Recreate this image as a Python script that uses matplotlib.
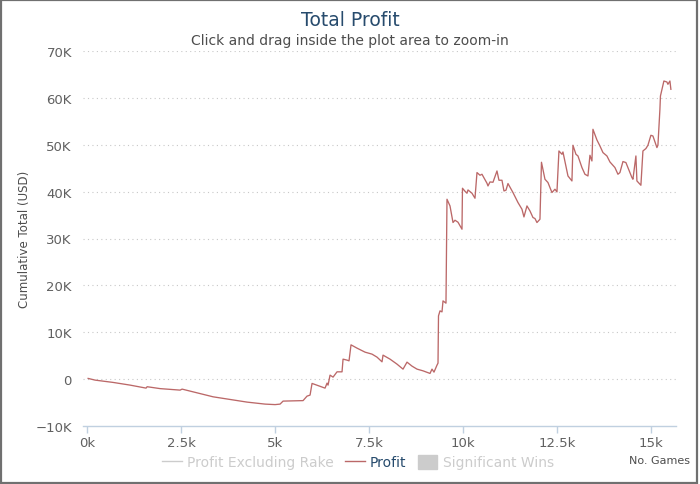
import matplotlib
matplotlib.use("Agg")
import matplotlib.pyplot as plt
from matplotlib.lines import Line2D
from matplotlib.patches import Patch, Rectangle
from matplotlib.ticker import FuncFormatter

# values
games = [27, 213, 692, 1144, 1569, 1596, 1942, 2474, 2527, 3352, 4256, 4735, 5001,
         5134, 5214, 5746, 5852, 5932, 5985, 6331, 6384, 6411, 6464, 6544, 6650, 6783,
         6810, 6916, 6969, 7022, 7182, 7395, 7581, 7714, 7847, 7874, 8060, 8246, 8406,
         8512, 8645, 8778, 8938, 9124, 9177, 9230, 9310, 9337, 9350, 9390, 9443, 9470,
         9549, 9576, 9656, 9736, 9789, 9869, 9975, 9988, 10055, 10108, 10135, 10241,
         10321, 10374, 10454, 10507, 10640, 10667, 10720, 10800, 10906, 10959, 11039,
         11092, 11145, 11199, 11332, 11465, 11571, 11624, 11704, 11784, 11864, 11917,
         11970, 12050, 12090, 12183, 12263, 12369, 12449, 12502, 12555, 12635, 12662,
         12795, 12901, 12928, 13007, 13061, 13167, 13247, 13327, 13380, 13433, 13460,
         13566, 13646, 13726, 13832, 13912, 14045, 14125, 14178, 14258, 14337, 14391,
         14497, 14524, 14603, 14630, 14736, 14790, 14869, 14923, 15002, 15056, 15162,
         15189, 15242, 15256, 15348, 15428, 15455, 15508, 15534]
profit = [150, -213, -704, -1279, -1919, -1620, -2025, -2345, -2132, -3774, -4904, -5330,
          -5437, -5330, -4690, -4584, -3624, -3411, -917, -1919, -853, -1279, 853, 426,
          1556, 1556, 4264, 4051, 3902, 7313, 6609, 5756, 5330, 4690, 3688, 5117, 4264,
          3198, 2132, 3624, 2772, 2132, 1770, 1215, 2132, 1492, 2985, 3411, 13496, 14562,
          14348, 16693, 16203, 38376, 36948, 33408, 33899, 33472, 31980, 40721, 40082,
          39655, 40359, 39655, 38589, 44069, 43493, 43706, 41787, 41212, 42064, 42000,
          44410, 42427, 42427, 40146, 40295, 41723, 39804, 37672, 36244, 34602, 36948,
          35882, 34475, 34261, 33408, 34112, 46264, 42640, 41936, 39804, 40508, 39932,
          48673, 47970, 48460, 43343, 42277, 49889, 47970, 47608, 45134, 43706, 43343,
          47757, 46541, 53300, 51019, 49740, 48333, 47608, 46328, 45134, 43706, 44069,
          46414, 46201, 45134, 43002, 42640, 47608, 42277, 41361, 48673, 49185, 49889,
          52021, 51870, 49398, 49889, 57564, 60400, 63598, 63385, 62894, 63598, 61828]

x_ticks = [0, 2500, 5000, 7500, 10000, 12500, 15000]
x_labels = ["0k", "2.5k", "5k", "7.5k", "10k", "12.5k", "15k"]
y_ticks = [-10000, 0, 10000, 20000, 30000, 40000, 50000, 60000, 70000]

fig = plt.figure(figsize=(7, 4.85), dpi=100)
ax = fig.add_axes([83 / 700, 1 - 427 / 485, (676 - 83) / 700, (427 - 52) / 485])

ax.plot(games, profit, color="#bb6868", lw=0.95)

ax.set_xlim(-110, 15670)
ax.set_ylim(-10000, 70000)
ax.set_xticks(x_ticks)
ax.set_xticklabels(x_labels)
ax.set_yticks(y_ticks)
ax.yaxis.set_major_formatter(FuncFormatter(
    lambda v, p: "0" if v == 0 else ("\u2212%dK" % abs(v / 1000) if v < 0 else "%dK" % (v / 1000))))

for v in y_ticks[1:]:
    ax.axhline(v, color="#c8c8c8", lw=0.8, ls=(0, (1, 3)), zorder=0)

for s in ["top", "right", "left"]:
    ax.spines[s].set_visible(False)
ax.spines["bottom"].set_color("#c0d0e0")
ax.spines["bottom"].set_linewidth(1)
ax.tick_params(axis="x", colors="#c0d0e0", length=5, width=1, labelcolor="#606060",
               labelsize=9.5, pad=2)
ax.tick_params(axis="y", length=0, labelcolor="#606060", labelsize=9.5, pad=8)

ax.set_ylabel("Cumulative Total (USD)", color="#4d4d4d", fontsize=8.5, labelpad=3)

fig.text(0.5, 1 - 20 / 485, "Total Profit", ha="center", va="center",
         color="#274b6d", fontsize=13.5)
fig.text(0.5, 1 - 41 / 485, "Click and drag inside the plot area to zoom-in",
         ha="center", va="center", color="#4d4d4d", fontsize=10)
fig.text(690 / 700, 1 - 461 / 485, "No. Games", ha="right", va="center",
         color="#4d4d4d", fontsize=8)

handles = [Line2D([], [], color="#cccccc", lw=1),
           Line2D([], [], color="#bb6868", lw=1),
           Patch(facecolor="#cccccc", edgecolor="#cccccc")]
leg = fig.legend(handles, ["Profit Excluding Rake", "Profit", "Significant Wins"],
                 loc="center", bbox_to_anchor=(358 / 700, 1 - 463 / 485), ncol=3,
                 frameon=False, fontsize=10, handlelength=1.4, handleheight=1.2,
                 handletextpad=0.4, columnspacing=0.8)
for t, c in zip(leg.get_texts(), ["#cccccc", "#274b6d", "#cccccc"]):
    t.set_color(c)

fig.patches.append(Rectangle((0.002, 0.003), 0.994, 0.994, transform=fig.transFigure,
                             fill=False, edgecolor="#707070", lw=1.6))

fig.savefig("out.png", dpi=100)
